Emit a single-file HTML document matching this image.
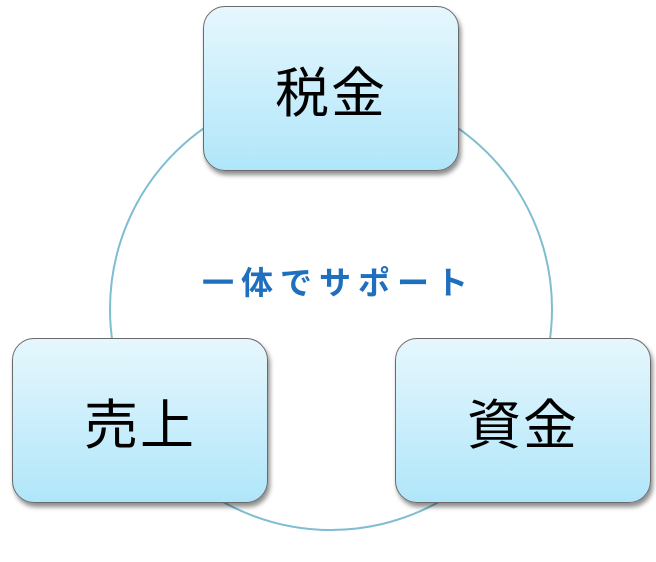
<!DOCTYPE html>
<html><head><meta charset="utf-8"><style>
body{margin:0;width:656px;height:562px;background:#fff;position:relative;overflow:hidden;font-family:"Liberation Sans","Noto Sans CJK JP",sans-serif}
.b{position:absolute;width:256px;height:165px;border-radius:22px;border:1.5px solid #6a6a6a;box-sizing:border-box;background:linear-gradient(#e6f7fd,#b0e6fa);box-shadow:2px 4px 5px rgba(0,0,0,0.45);display:flex;align-items:center;justify-content:center;font-size:54px;color:#000;letter-spacing:2px}
.c{position:absolute;left:202px;top:258px;font-size:32px;color:#1f6fbf;font-weight:bold;letter-spacing:7px}
</style></head><body>
<svg width="656" height="562" style="position:absolute;left:0;top:0"><circle cx="331" cy="309" r="221" fill="none" stroke="#7fbdd0" stroke-width="2"/></svg>
<div class="b" style="left:203px;top:6px">税金</div>
<div class="b" style="left:12px;top:338px">売上</div>
<div class="b" style="left:395px;top:338px">資金</div>
<div class="c">一体でサポート</div>
</body></html>
